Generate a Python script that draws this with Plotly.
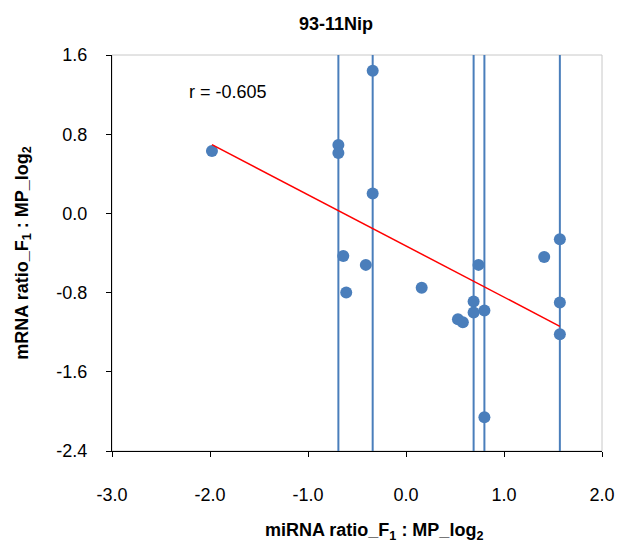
import numpy as np
import plotly.graph_objects as go
from collections import Counter

# ---- data ----
mirna_ratio = [-1.98, -0.69, -0.69, -0.34, -0.34, -0.64, -0.41, -0.61, 0.16, 0.74,
               1.41, 0.69, 0.69, 0.80, 0.53, 0.58, 1.57, 1.57, 1.57, 0.80]
mrna_ratio = [0.63, 0.69, 0.61, 1.44, 0.20, -0.43, -0.52, -0.80, -0.75, -0.52,
              -0.44, -0.89, -1.00, -0.98, -1.07, -1.10, -0.26, -0.90, -1.22, -2.06]
r_label = "r = -0.605"
title_text = "93-11Nip"
x_range = [-3.0, 2.0]
y_range = [-2.4, 1.6]
x_ticks = [-3.0, -2.0, -1.0, 0.0, 1.0, 2.0]
x_tick_labels = ["-3.0", "-2.0", "-1.0", "0.0", "1.0", "2.0"]
y_ticks = [-2.4, -1.6, -0.8, 0.0, 0.8, 1.6]
y_tick_labels = ["-2.4", "-1.6", "-0.8", "0.0", "0.8", "1.6"]

BLUE = "#4A7EBB"
FONT = "Liberation Sans, Arial, sans-serif"
W, H = 617, 546

x = np.array(mirna_ratio)
y = np.array(mrna_ratio)

# vertical guide lines at x values that occur more than once
counts = Counter(mirna_ratio)
vline_x = sorted(v for v, c in counts.items() if c > 1)
vx, vy = [], []
for v in vline_x:
    vx += [v, v, None]
    vy += [y_range[0], y_range[1], None]

# linear trend (least squares)
slope, intercept = np.polyfit(x, y, 1)
tx = np.array([x.min(), x.max()])
ty = slope * tx + intercept

fig = go.Figure()
fig.add_trace(go.Scatter(x=vx, y=vy, mode="lines",
                         line=dict(color=BLUE, width=2),
                         hoverinfo="skip", showlegend=False))
fig.add_trace(go.Scatter(x=x, y=y, mode="markers",
                         marker=dict(color=BLUE, size=12),
                         showlegend=False))
fig.add_trace(go.Scatter(x=tx, y=ty, mode="lines",
                         line=dict(color="#FF0000", width=1.5),
                         showlegend=False))

fig.update_layout(
    width=W, height=H,
    margin=dict(l=112, r=15, t=55, b=95),
    paper_bgcolor="white", plot_bgcolor="white",
    font=dict(family=FONT, size=18, color="black"),
    title=dict(text="<b>" + title_text + "</b>", x=336 / W, xref="container",
               xanchor="center", y=1 - 24 / H, yref="container", yanchor="middle",
               font=dict(family=FONT, size=18, color="black")),
    shapes=[dict(type="rect", xref="paper", yref="paper", x0=0, x1=1, y0=0, y1=1,
                 line=dict(color="#C8C8C8", width=1), layer="below")],
    annotations=[
        dict(text=r_label, x=-2.23, y=1.23, xref="x", yref="y",
             xanchor="left", yanchor="middle", showarrow=False,
             font=dict(family=FONT, size=18, color="black")),
        dict(text="<b>miRNA ratio_F<sub>1</sub> : MP_log<sub>2</sub></b>",
             x=(374 - 112) / 490, y=-(531 - 451) / 396, xref="paper", yref="paper",
             xanchor="center", yanchor="middle", showarrow=False,
             font=dict(family=FONT, size=18, color="black")),
    ],
)
fig.update_xaxes(range=x_range, tickvals=x_ticks, ticktext=x_tick_labels,
                 showline=True, linecolor="black", linewidth=1,
                 ticks="outside", ticklen=5, tickcolor="black",
                 showgrid=False, zeroline=False, automargin=False,
                 ticklabelstandoff=22, tickfont=dict(size=18))
fig.update_yaxes(range=y_range, tickvals=y_ticks, ticktext=y_tick_labels,
                 showline=True, linecolor="black", linewidth=1,
                 ticks="outside", ticklen=5, tickcolor="black",
                 showgrid=False, zeroline=False, automargin=False,
                 ticklabelstandoff=15, tickfont=dict(size=18),
                 title=dict(text="<b>mRNA ratio_F<sub>1</sub> : MP_log<sub>2</sub></b>",
                            standoff=23, font=dict(size=18)))

fig.write_html("out.html",
               config={"displayModeBar": False},
               post_script="document.body.style.margin='0';document.body.style.overflow='hidden';")
